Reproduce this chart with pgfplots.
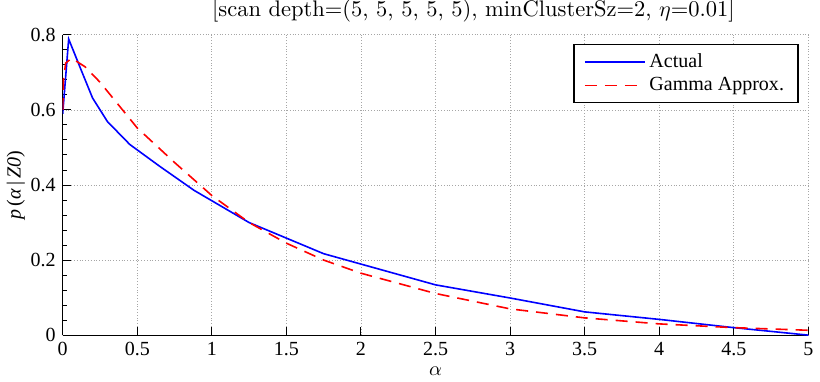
\documentclass[border=0pt]{standalone}
\usepackage{fontspec}
\setmainfont{Liberation Serif}
\newfontfamily\titlefont{lmroman10-regular}[Extension=.otf]
\usepackage{pgfplots}
\pgfplotsset{compat=1.18}
\begin{document}
\begin{tikzpicture}
\begin{axis}[
  name=ax,
  scale only axis,
  width=372.5pt, height=150pt,
  xmin=0, xmax=5, ymin=0, ymax=0.8,
  axis lines*=left,
  xtick={0,0.5,...,5},
  ytick={0,0.2,0.4,0.6,0.8},
  minor y tick num=4,
  xticklabels={0,0.5,1,1.5,2,2.5,3,3.5,4,4.5,5},
  yticklabels={0,0.2,0.4,0.6,0.8},
  tick align=inside,
  major tick length=4pt,
  minor tick length=2pt,
  grid=major,
  grid style={densely dotted, gray!70, line width=0.4pt},
  axis line style={black, line width=0.6pt},
  every tick/.style={black, line width=0.5pt},
  tick label style={font=\fontsize{10}{12}\selectfont},
  /pgf/number format/assume math mode=true,
  xlabel={$\alpha$},
  xlabel style={yshift=1.5pt},
  ylabel={\textit{p}\,(\textit{α}\,|\,\textit{Z0})},
  ylabel style={font=\fontsize{10}{12}\selectfont, yshift=-4pt},
  legend style={at={(0.987,0.97)}, anchor=north east, draw=black, line width=0.6pt, font=\fontsize{10}{12}\selectfont, row sep=-0.5pt, inner xsep=5pt, inner ysep=2.5pt},
  legend cell align=left,
  legend image code/.code={\draw (0cm,0cm) -- (1.05cm,0cm);},
]
\addplot[blue, line width=0.8pt] coordinates {
(0,0.59) (0.04,0.789) (0.12,0.71) (0.2,0.632) (0.3,0.569) (0.45,0.508) (0.65,0.45) (0.88,0.386) (1.25,0.3) (1.75,0.217) (2.5,0.134) (3.0,0.099) (3.5,0.062) (4.0,0.042) (4.5,0.02) (5,0)
};
\addlegendentry{Actual}
\addplot[red, line width=0.8pt, dash pattern=on 6pt off 4pt] coordinates {
(0,0.6) (0.005,0.68) (0.02,0.725) (0.06,0.738) (0.15,0.715) (0.25,0.674) (0.5,0.552) (0.75,0.46) (1,0.372) (1.25,0.3) (1.5,0.245) (1.75,0.2) (2,0.165) (2.5,0.111) (3,0.07) (3.5,0.046) (4,0.03) (4.5,0.02) (5,0.013)
};
\addlegendentry{Gamma Approx.}
\end{axis}
\node[anchor=base west, inner sep=0pt, font=\fontsize{11.25}{13}\selectfont\titlefont] at ([shift={(74.5pt,9pt)}]ax.north west) {[scan depth=(5, 5, 5, 5, 5), minClusterSz=2, $\eta$=0.01]};
\end{tikzpicture}
\end{document}
